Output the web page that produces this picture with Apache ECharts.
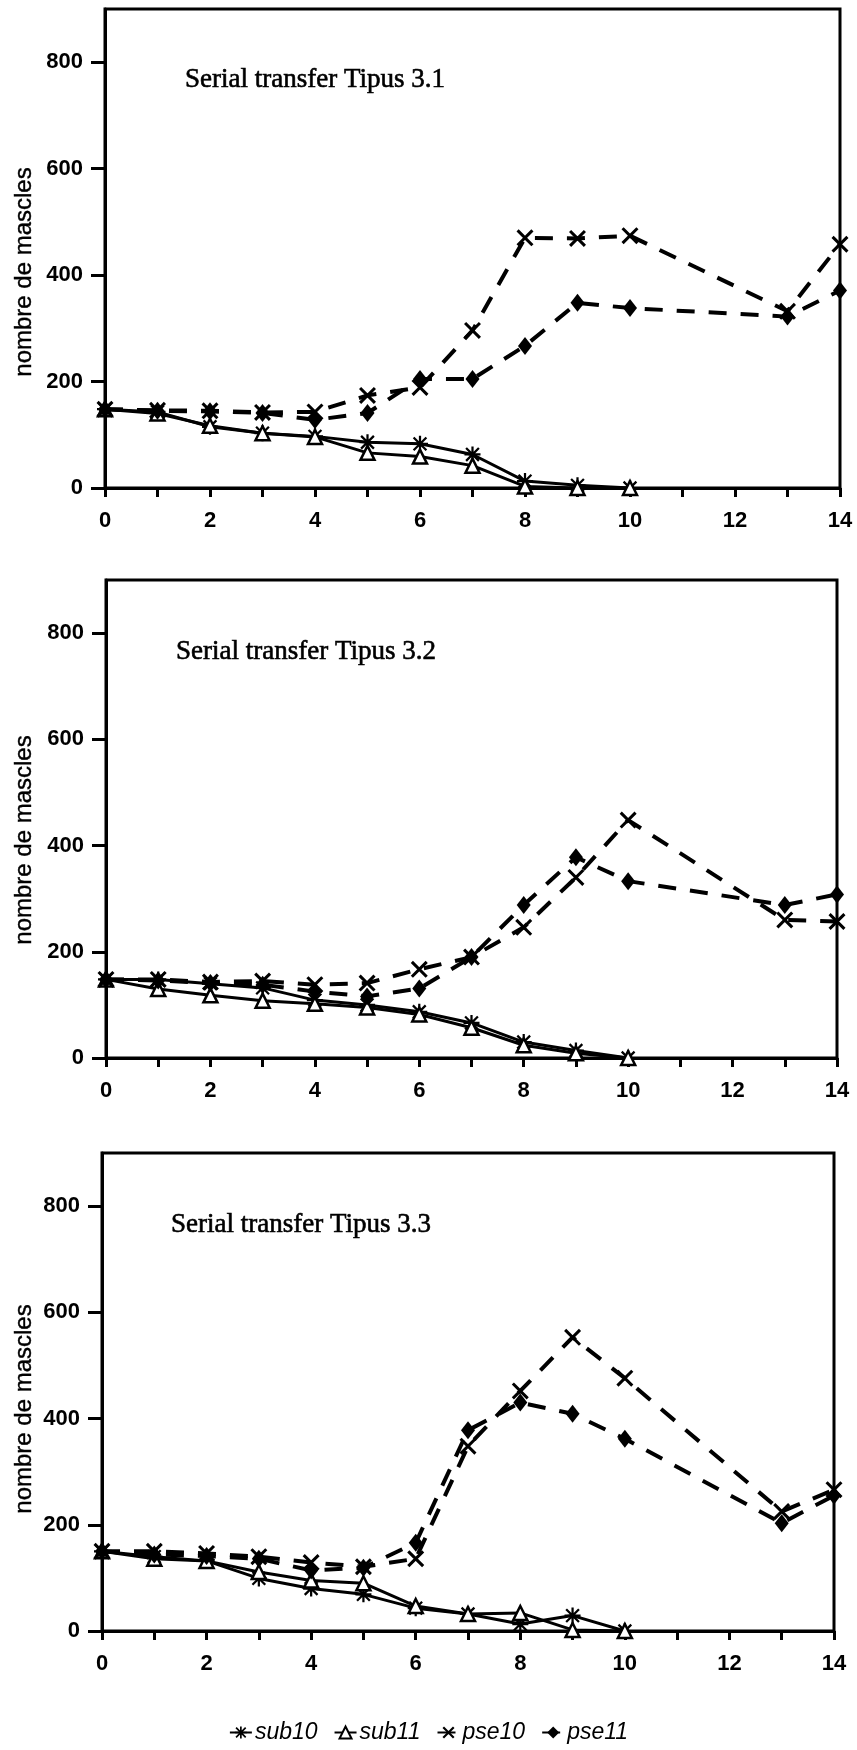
<!DOCTYPE html>
<html>
<head>
<meta charset="utf-8">
<title>Serial transfer Tipus 3</title>
<script src="https://cdn.jsdelivr.net/npm/echarts@6/dist/echarts.min.js"></script>
<style>
  html, body { margin: 0; padding: 0; background: #fff; }
  #chart { width: 857px; height: 1750px; }
</style>
</head>
<body>
<div id="chart"></div>
<script>
// Transfer days for each line family
const subDays = [0, 1, 2, 3, 4, 5, 6, 7, 8, 9, 10];
const pseDays = [0, 1, 2, 3, 4, 5, 6, 7, 8, 9, 10, 13, 14];

// Axis tick values and labels
const xTicks = [0, 1, 2, 3, 4, 5, 6, 7, 8, 9, 10, 11, 12, 13, 14];
const xTickLabels = [0, 2, 4, 6, 8, 10, 12, 14];
const yTickLabels = [0, 200, 400, 600, 800];

const panelTitles = ['Serial transfer Tipus 3.1', 'Serial transfer Tipus 3.2', 'Serial transfer Tipus 3.3'];
const seriesNames = ['sub10', 'sub11', 'pse10', 'pse11'];
const yAxisName = 'nombre de mascles';

// Tipus 3.1
const sub10_31 = [148, 143, 115, 103, 97, 86, 83, 63, 13, 5, 0];
const sub11_31 = [148, 140, 117, 103, 96, 66, 59, 42, 3, 0, 0];
const pse10_31 = [148, 146, 145, 142, 143, 174, 189, 296, 470, 469, 474, 332, 458];
const pse11_31 = [148, 145, 144, 141, 128, 141, 205, 205, 267, 348, 338, 322, 371];

// Tipus 3.2
const sub10_32 = [148, 148, 140, 132, 109, 100, 87, 66, 30, 14, 0];
const sub11_32 = [148, 130, 118, 108, 102, 95, 82, 57, 24, 9, 0];
const pse10_32 = [148, 148, 143, 145, 138, 141, 167, 190, 246, 340, 448, 260, 257];
const pse11_32 = [148, 146, 141, 138, 125, 116, 131, 190, 288, 378, 333, 288, 308];

// Tipus 3.3
const sub10_33 = [150, 140, 132, 99, 80, 69, 43, 32, 13, 29, 0];
const sub11_33 = [150, 136, 132, 111, 95, 90, 47, 32, 34, 2, 0];
const pse10_33 = [150, 150, 146, 140, 129, 121, 136, 348, 452, 553, 476, 225, 266];
const pse11_33 = [150, 144, 141, 136, 114, 119, 166, 378, 430, 409, 362, 203, 255];

const panels = [
  { sub10: sub10_31, sub11: sub11_31, pse10: pse10_31, pse11: pse11_31 },
  { sub10: sub10_32, sub11: sub11_32, pse10: pse10_32, pse11: pse11_32 },
  { sub10: sub10_33, sub11: sub11_33, pse10: pse10_33, pse11: pse11_33 }
];

// Plot boxes of the three stacked panels
const grids = [
  { left: 105, top: 9, width: 735, height: 479 },
  { left: 106, top: 580, width: 731, height: 478 },
  { left: 102, top: 1153, width: 732, height: 478 }
];
const titlePos = [
  { left: 180, top: 61 },
  { left: 171, top: 633 },
  { left: 166, top: 1206 }
];
// Rotated y-axis captions sit a little below each panel's middle
const axisNamePos = [[24, 272], [24, 840], [24, 1409]];

// Marker shapes: eight-armed asterisk and diagonal cross
const ASTERISK = 'path://M8.6 0L11.4 0L11.4 20L8.6 20Z M0 8.6L20 8.6L20 11.4L0 11.4Z ' +
  'M1 3L3 1L19 17L17 19Z M17 1L19 3L3 19L1 17Z';
const CROSS = 'path://M0.5 2.9L2.9 0.5L19.5 17.1L17.1 19.5Z M17.1 0.5L19.5 2.9L2.9 19.5L0.5 17.1Z';

const INK = '#000';
const sansFont = '"Liberation Sans", Arial, Helvetica, sans-serif';
const serifFont = '"Liberation Serif", "Times New Roman", serif';

const pairs = (days, vals) => days.map((d, i) => [d, vals[i]]);

const dash = [18, 14];
const styles = {
  sub10: { symbol: ASTERISK, symbolSize: 16, itemStyle: { color: INK }, lineStyle: { color: INK, width: 3, type: 'solid' } },
  sub11: { symbol: 'triangle', symbolSize: 14, itemStyle: { color: '#fff', borderColor: INK, borderWidth: 2.5 }, lineStyle: { color: INK, width: 3, type: 'solid' } },
  pse10: { symbol: CROSS, symbolSize: 17, itemStyle: { color: INK }, lineStyle: { color: INK, width: 4, type: dash } },
  pse11: { symbol: 'diamond', symbolSize: [14, 18], itemStyle: { color: INK }, lineStyle: { color: INK, width: 4, type: dash } }
};

const xAxes = [], yAxes = [], series = [], titles = [], graphics = [];
grids.forEach((g, k) => {
  xAxes.push({
    type: 'value', gridIndex: k, min: 0, max: 14, interval: 1,
    axisLine: { show: true, lineStyle: { color: INK, width: 3 } },
    axisTick: { show: true, inside: false, length: 9, lineStyle: { color: INK, width: 3 }, customValues: xTicks },
    axisLabel: { show: true, margin: 22, color: INK, fontFamily: sansFont, fontSize: 22, fontWeight: 'bold', customValues: xTickLabels },
    splitLine: { show: false }
  });
  yAxes.push({
    type: 'value', gridIndex: k, min: 0, max: 900,
    axisLine: { show: true, lineStyle: { color: INK, width: 3 } },
    axisTick: { show: true, inside: false, length: 14, lineStyle: { color: INK, width: 3 }, customValues: yTickLabels },
    axisLabel: { show: true, margin: 22, color: INK, fontFamily: sansFont, fontSize: 22, fontWeight: 'bold', customValues: yTickLabels },
    splitLine: { show: false }
  });
  titles.push({
    text: panelTitles[k], left: titlePos[k].left, top: titlePos[k].top,
    textStyle: { color: INK, fontFamily: serifFont, fontSize: 27, fontWeight: 'normal', textBorderColor: INK, textBorderWidth: 0.6 }
  });
  graphics.push({
    type: 'text', x: axisNamePos[k][0], y: axisNamePos[k][1], rotation: Math.PI / 2,
    style: {
      text: yAxisName, fill: INK, font: '24px ' + sansFont,
      align: 'center', verticalAlign: 'middle', stroke: INK, lineWidth: 0.4
    }
  });
  seriesNames.forEach(name => {
    const days = name.startsWith('sub') ? subDays : pseDays;
    const st = styles[name];
    series.push({
      name, type: 'line', xAxisIndex: k, yAxisIndex: k,
      data: pairs(days, panels[k][name]),
      symbol: st.symbol, symbolSize: st.symbolSize, showAllSymbol: true,
      itemStyle: st.itemStyle, lineStyle: st.lineStyle,
      clip: false, animation: false, z: 3
    });
  });
});

const chart = echarts.init(document.getElementById('chart'), null, { renderer: 'canvas' });
chart.setOption({
  backgroundColor: '#fff',
  animation: false,
  title: titles,
  graphic: graphics,
  grid: grids.map(g => Object.assign({ show: true, borderColor: INK, borderWidth: 3, backgroundColor: 'transparent', containLabel: false }, g)),
  xAxis: xAxes,
  yAxis: yAxes,
  legend: {
    data: seriesNames, bottom: 1, left: 'center',
    itemWidth: 22, itemHeight: 15, itemGap: 16,
    textStyle: { color: INK, fontFamily: sansFont, fontSize: 23, fontStyle: 'italic', padding: [0, 0, 0, -2] }
  },
  series
});
</script>
</body>
</html>
